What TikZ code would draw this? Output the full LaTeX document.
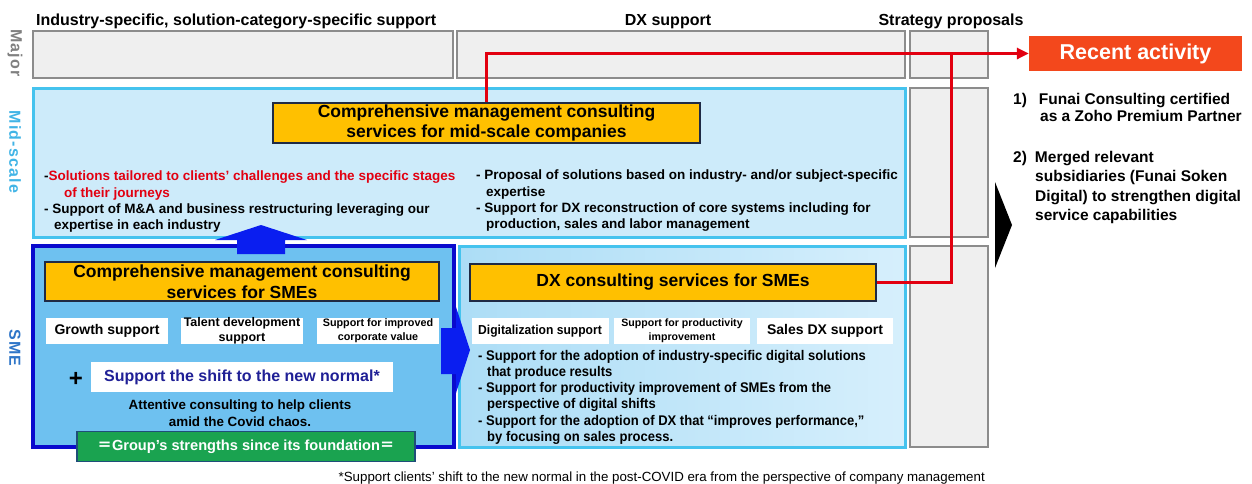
\documentclass[tikz,border=0pt]{standalone}
\usepackage{fontspec}
\setmainfont{Liberation Sans}
\newfontfamily\narrowfont{Liberation Sans}[FakeStretch=0.93]
\newfontfamily\spacedfont{Liberation Sans}[LetterSpace=8]
\newfontfamily\cjkfont{Noto Sans CJK JP}
\usetikzlibrary{arrows.meta,calc,positioning}
\definecolor{panelgray}{RGB}{239,239,239}
\definecolor{edgegray}{RGB}{140,140,140}
\definecolor{midfill}{RGB}{205,235,250}
\definecolor{midedge}{RGB}{69,195,238}
\definecolor{smefill}{RGB}{110,193,240}
\definecolor{smeedge}{RGB}{10,10,205}
\definecolor{dxleft}{RGB}{172,221,246}
\definecolor{dxright}{RGB}{214,239,252}
\definecolor{consyellow}{RGB}{255,192,0}
\definecolor{boxnavy}{RGB}{31,42,68}
\definecolor{linkred}{RGB}{226,0,16}
\definecolor{recentorange}{RGB}{243,72,28}
\definecolor{groupgreen}{RGB}{26,163,80}
\definecolor{greenedge}{RGB}{31,78,121}
\definecolor{arrowblue}{RGB}{10,30,240}
\definecolor{normalnavy}{RGB}{32,32,150}
\definecolor{majorgray}{RGB}{128,128,128}
\definecolor{midlabel}{RGB}{65,180,230}
\definecolor{smelabel}{RGB}{46,117,200}
\newcommand{\fsize}[2]{\fontsize{#1}{#2}\selectfont}
\newcommand{\panelbox}[5]{%
  \filldraw[#5] (#1,#2) rectangle (#3,#4);
}

\begin{document}
\begin{tikzpicture}[x=1pt,y=-1pt,
    graybox/.style={fill=panelgray,draw=edgegray,line width=1.8pt},
    yellowbox/.style={fill=consyellow,draw=boxnavy,line width=1.8pt,inner sep=0pt,
      align=center,font=\bfseries\fsize{17.5}{20.5}},
    whitebox/.style={fill=white,inner sep=0pt,align=center,minimum height=26pt},
    vlabel/.style={rotate=-90,font=\spacedfont\bfseries\fsize{16}{18}},
    header/.style={anchor=base,inner sep=0pt,font=\bfseries\fsize{16}{18}},
    bullets/.style={anchor=north west,inner sep=0pt,align=left,
      font=\bfseries\fsize{13.5}{16.3}},
    redlink/.style={draw=linkred,line width=3pt}]
    \fill[white] (0,0) rectangle (1252,483);
    \useasboundingbox (0,0) rectangle (1252,483);

    % column headers and row labels
    \node[header,anchor=base west] (hind) at (36,25) {Industry-specific, solution-category-specific support};
    \node[header] (hdx) at (668,25) {DX support};
    \node[header] (hstr) at (951,25) {Strategy proposals};
    \node[vlabel,text=majorgray] (lmajor) at (15,53) {Major};
    \node[vlabel,text=midlabel] (lmid) at (15,152) {Mid-scale};
    \node[vlabel,text=smelabel] (lsme) at (15,348) {SME};

    % panels
    \panelbox{33}{31}{453}{78}{graybox}
    \panelbox{457}{31}{905}{78}{graybox}
    \foreach \ya/\yb in {31/78,88/237,246/447}
      \panelbox{910}{\ya}{988}{\yb}{graybox}
    \panelbox{33}{88}{905}{237}{fill=midfill,draw=midedge,line width=3pt}
    \panelbox{33}{246}{454}{447}{fill=smefill,draw=smeedge,line width=3.5pt}
    \shade[left color=dxleft,right color=dxright] (459,246) rectangle (905,447);
    \draw[midedge,line width=3pt] (459,246) rectangle (905,447);

    % block arrows
    \fill[arrowblue] (237,254) -- (237,240) -- (215,240) -- (261,225) -- (307,240)
      -- (285,240) -- (285,254) -- cycle;
    \fill[arrowblue] (441,328) -- (456,328) -- (456,307) -- (470,350) -- (456,393)
      -- (456,374) -- (441,374) -- cycle;
    \fill[black] (995,182) -- (1012,225) -- (995,268) -- cycle;

    % mid-scale row
    \node[yellowbox,minimum width=427pt,minimum height=40pt] (midyel) at (486.5,123)
      {Comprehensive management consulting\\services for mid-scale companies};
    \node[bullets] (midl) at (44,171) {-\textcolor{linkred}{Solutions tailored to clients’ challenges and the specific stages}\\
      \hspace*{20pt}\textcolor{linkred}{of their journeys}\\
      - Support of M\&A and business restructuring leveraging our\\
      \hspace*{10pt}expertise in each industry};
    \node[bullets] (midr) at (476,170) {- Proposal of solutions based on industry- and/or subject-specific\\
      \hspace*{10pt}expertise\\
      - Support for DX reconstruction of core systems including for\\
      \hspace*{10pt}production, sales and labor management};

    % SME row, left
    \node[yellowbox,minimum width=394pt,minimum height=39pt] (smeyel) at (242,281.5)
      {Comprehensive management consulting\\services for SMEs};
    \node[whitebox,minimum width=122pt,font=\bfseries\fsize{14}{16}] (growth) at (107,331) {Growth support};
    \node[whitebox,minimum width=122pt,font=\bfseries\fsize{12.5}{15}] (talent) at (242,331) {Talent development\\support};
    \node[whitebox,minimum width=122pt,font=\bfseries\fsize{10.8}{14}] (corpval) at (378,331) {Support for improved\\corporate value};
    \node[inner sep=0pt,font=\bfseries\fsize{24}{24}] (plus) at (76,379) {+};
    \node[whitebox,minimum width=302pt,minimum height=30pt,text=normalnavy,
      font=\bfseries\fsize{16}{18}] (newnormal) at (242,377) {Support the shift to the new normal*};
    \node[inner sep=0pt,align=center,font=\bfseries\fsize{13.4}{17}] (covid) at (240,413.5)
      {Attentive consulting to help clients\\amid the Covid chaos.};
    \node[fill=groupgreen,draw=greenedge,line width=1.5pt,inner sep=0pt,minimum width=338pt,
      minimum height=30pt,text=white,font=\bfseries\fsize{14.6}{17}] (strength) at (246,446.5)
      {{\cjkfont ＝}Group’s strengths since its foundation{\cjkfont ＝}};

    % SME row, right
    \node[yellowbox,minimum width=406pt,minimum height=37pt] (dxyel) at (673,282.5) {DX consulting services for SMEs};
    \node[whitebox,minimum width=137pt,font=\narrowfont\bfseries\fsize{13}{16}] (digi) at (540,331) {Digitalization support};
    \node[whitebox,minimum width=136pt,font=\bfseries\fsize{10.6}{14}] (prod) at (682,331) {Support for productivity\\improvement};
    \node[whitebox,minimum width=136pt,font=\bfseries\fsize{14}{16}] (salesdx) at (825,331) {Sales DX support};
    \node[bullets,font=\narrowfont\bfseries\fsize{14}{16.2}] (dxlist) at (478,350)
      {- Support for the adoption of industry-specific digital solutions\\
      \hspace*{9pt}that produce results\\
      - Support for productivity improvement of SMEs from the\\
      \hspace*{9pt}perspective of digital shifts\\
      - Support for the adoption of DX that “improves performance,”\\
      \hspace*{9pt}by focusing on sales process.};

    % recent activity
    \node[fill=recentorange,inner sep=0pt,minimum width=213pt,minimum height=35pt,text=white,
      font=\bfseries\fsize{21.5}{24}] (recent) at (1135.5,53.5) {Recent activity};
    \node[bullets,font=\bfseries\fsize{15.5}{17}] (item1) at (1013,93)
      {1)\hspace{12pt}Funai Consulting certified\\\hspace*{27pt}as a Zoho Premium Partner};
    \node[bullets,font=\bfseries\fsize{15.5}{19.3}] (item2) at (1013,151)
      {2)\hspace{8pt}Merged relevant\\\hspace*{22pt}subsidiaries (Funai Soken\\\hspace*{22pt}Digital) to strengthen digital\\\hspace*{22pt}service capabilities};

    % links to recent activity
    \coordinate (joint) at (951,0);
    \draw[redlink,-{Triangle[length=12pt,width=11pt]}] (midyel.north) |- (recent.west);
    \draw[redlink] (dxyel.east) -| (joint |- recent.west);

    \node[anchor=base east,inner sep=0pt,font=\fsize{13.3}{16}] (foot) at (985,481)
      {*Support clients’ shift to the new normal in the post-COVID era from the perspective of company management};
  \end{tikzpicture}
\end{document}
